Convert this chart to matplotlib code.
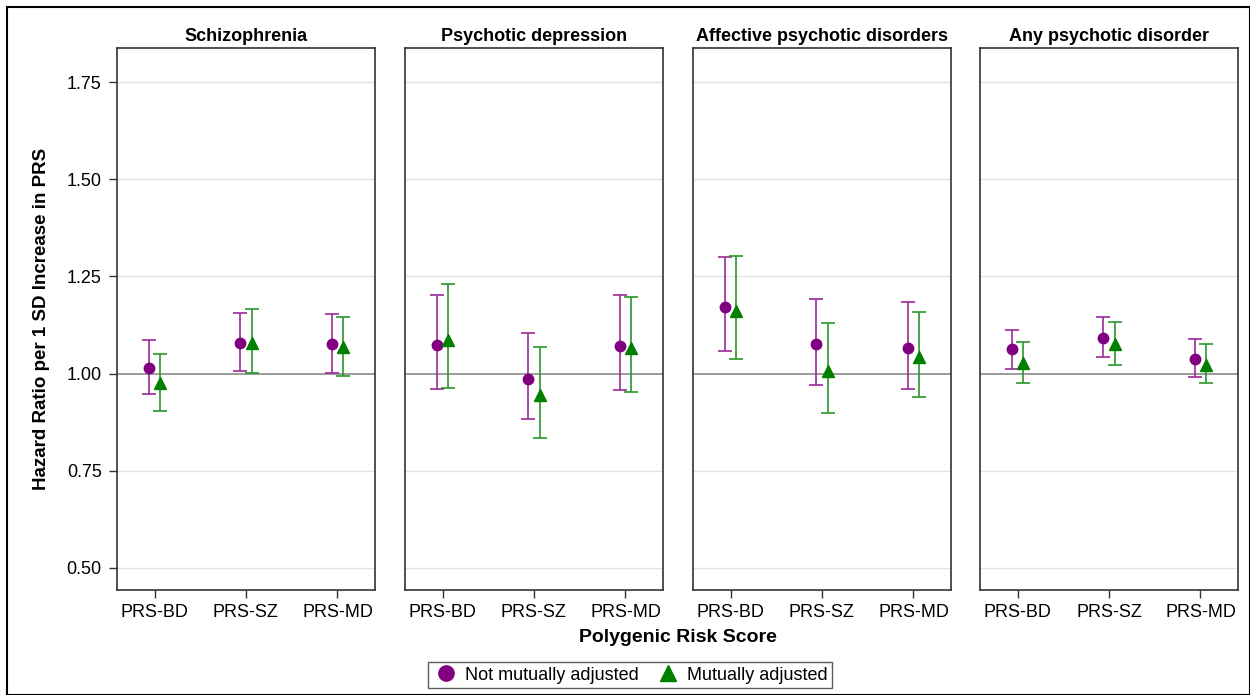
import numpy as np
import matplotlib
matplotlib.use("Agg")
import matplotlib.pyplot as plt
from matplotlib.lines import Line2D
from matplotlib.patches import Rectangle

plt.rcParams['font.family'] = ['Liberation Sans', 'DejaVu Sans']

outcomes = ['Schizophrenia', 'Psychotic depression', 'Affective psychotic disorders', 'Any psychotic disorder']
scores = ['PRS-BD', 'PRS-SZ', 'PRS-MD']

# not mutually adjusted: estimate, lower, upper (rows = outcomes, cols = scores)
hr_not = [[1.015, 1.079, 1.075],
          [1.074, 0.986, 1.072],
          [1.172, 1.076, 1.066],
          [1.063, 1.092, 1.037]]
lo_not = [[0.948, 1.006, 1.002],
          [0.960, 0.882, 0.958],
          [1.057, 0.970, 0.961],
          [1.013, 1.042, 0.990]]
hi_not = [[1.087, 1.156, 1.154],
          [1.203, 1.105, 1.201],
          [1.300, 1.193, 1.183],
          [1.113, 1.146, 1.088]]

# mutually adjusted
hr_mut = [[0.975, 1.078, 1.068],
          [1.087, 0.944, 1.066],
          [1.161, 1.006, 1.042],
          [1.027, 1.076, 1.023]]
lo_mut = [[0.903, 1.001, 0.995],
          [0.962, 0.835, 0.952],
          [1.037, 0.899, 0.939],
          [0.975, 1.021, 0.975]]
hi_mut = [[1.051, 1.165, 1.146],
          [1.231, 1.069, 1.198],
          [1.302, 1.129, 1.159],
          [1.081, 1.133, 1.075]]

purple = '#800080'
green = '#008000'

fig = plt.figure(figsize=(12.5, 6.95), dpi=100)
W, H = 1250, 695
lefts = [117, 405, 693, 980]
pw = 258
top, bottom = 48, 590

x = np.arange(len(scores))
off = 0.065
axes = []
for i, name in enumerate(outcomes):
    ax = fig.add_axes([lefts[i] / W, 1 - bottom / H, pw / W, (bottom - top) / H])
    axes.append(ax)
    for y in [0.5, 0.75, 1.25, 1.5, 1.75]:
        ax.axhline(y, color='#e2e2e2', lw=1, zorder=0)
    ax.axhline(1.0, color='#8a8a8a', lw=1.2, zorder=1)

    e = np.array(hr_not[i]); l = np.array(lo_not[i]); h = np.array(hi_not[i])
    ax.errorbar(x - off, e, yerr=[e - l, h - e], fmt='o', color=purple, ecolor='#9a2a9a',
                ms=7.5, elinewidth=1.2, capsize=4.8, capthick=1.2, zorder=3)
    e = np.array(hr_mut[i]); l = np.array(lo_mut[i]); h = np.array(hi_mut[i])
    ax.errorbar(x + off, e, yerr=[e - l, h - e], fmt='^', color=green, ecolor='#2a962a',
                ms=8, elinewidth=1.2, capsize=4.8, capthick=1.2, zorder=3)

    ax.set_xlim(-0.41, 2.41)
    ax.set_ylim(0.443, 1.838)
    ax.set_xticks(x)
    ax.set_xticklabels(scores, fontsize=13)
    ax.set_yticks([0.5, 0.75, 1.0, 1.25, 1.5, 1.75])
    ax.tick_params(axis='both', direction='out', length=6, width=1, color='#333333')
    ax.tick_params(axis='x', pad=4)
    ax.tick_params(axis='y', pad=5)
    for s in ax.spines.values():
        s.set_color('#333333')
        s.set_linewidth(1.2)
    ax.set_title(name, fontsize=13, fontweight='bold', pad=5)
    if i == 0:
        ax.set_yticklabels(['0.50', '0.75', '1.00', '1.25', '1.50', '1.75'], fontsize=13)
        ax.set_ylabel('Hazard Ratio per 1 SD Increase in PRS', fontsize=13.5,
                      fontweight='bold', labelpad=12)
    else:
        ax.tick_params(axis='y', left=False, labelleft=False)

fig.text(678 / W, 1 - 638 / H, 'Polygenic Risk Score', ha='center', va='center',
         fontsize=14, fontweight='bold')

handles = [Line2D([], [], marker='o', ls='none', color=purple, ms=11),
           Line2D([], [], marker='^', ls='none', color=green, ms=11)]
fig.legend(handles, ['Not mutually adjusted', 'Mutually adjusted'],
           loc='center', bbox_to_anchor=(630 / W, 1 - 675 / H), ncol=2,
           fontsize=13, frameon=True, fancybox=False, edgecolor='#333333',
           handletextpad=0.3, columnspacing=0.9, borderpad=0.25, handlelength=1.5)

fig.patches.append(Rectangle((7 / W, 0), 1 - 7 / W, 1 - 7 / H, transform=fig.transFigure,
                             fill=False, edgecolor='black', lw=1.5))

fig.savefig('out.png', dpi=100)
